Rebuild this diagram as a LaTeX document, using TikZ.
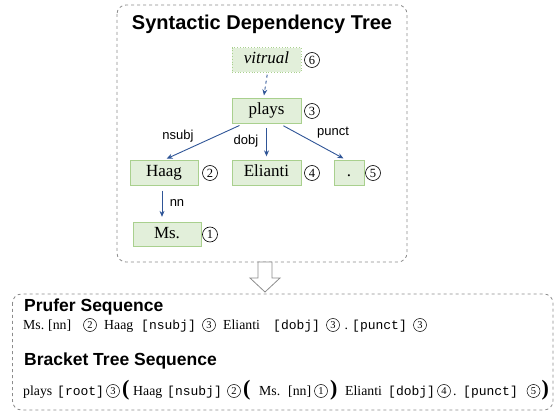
\documentclass[tikz,border=0pt]{standalone}
\usepackage{fontspec}
\setmainfont{Liberation Serif}
\setsansfont{Liberation Sans}
\setmonofont{Liberation Mono}
\usetikzlibrary{arrows.meta}
\definecolor{gfill}{HTML}{E2EFDA}
\definecolor{gdraw}{HTML}{A9D08E}
\definecolor{eblue}{HTML}{2F5597}
\definecolor{boxgray}{HTML}{8C8C8C}
\tikzset{
  wordbox/.style={draw=gdraw,fill=gfill,line width=0.8pt,minimum height=24.5pt,inner sep=0pt,text height=11.5pt,text depth=3.5pt,font=\fontsize{17}{17}\selectfont},
  numc/.style={circle,draw=black,line width=0.6pt,inner sep=0pt,minimum size=15pt,font=\fontsize{12.5}{12.5}\selectfont},
  snum/.style={circle,draw=black,line width=0.5pt,inner sep=0pt,minimum size=13pt,font=\fontsize{10.5}{10.5}\selectfont},
  edge/.style={draw=eblue,line width=0.9pt,-{Stealth[length=6pt,width=5pt]}},
  elabel/.style={font=\sffamily\fontsize{13}{13}\selectfont,inner sep=0pt},
  panel/.style={draw=boxgray,dashed,line width=0.8pt,rounded corners=9pt},
  heading/.style={font=\sffamily\bfseries\fontsize{17.5}{17.5}\selectfont,anchor=base west,inner sep=0pt},
  sw/.style={font=\fontsize{13.8}{15}\selectfont,anchor=base west,inner sep=0pt},
  st/.style={font=\ttfamily\fontsize{13}{15}\selectfont,anchor=base west,inner sep=0pt},
  sp/.style={font=\bfseries\fontsize{22}{22}\selectfont,anchor=base west,inner sep=0pt}
}
\begin{document}
\begin{tikzpicture}[x=1pt,y=-1pt]
\useasboundingbox (0,0) rectangle (560,414);
% upper panel
\draw[panel] (117,5) rectangle (407,262);
\node[font=\sffamily\bfseries\fontsize{20}{20}\selectfont,anchor=base,inner sep=0pt] (title) at (262,30) {Syntactic Dependency Tree};
% tree nodes
\node[wordbox,minimum width=69pt,draw=gdraw,dotted,line width=1pt,font=\itshape\fontsize{17}{17}\selectfont] (vit) at (266.5,60) {vitrual};
\node[wordbox,minimum width=69pt] (plays) at (266.5,111) {plays};
\node[wordbox,minimum width=68pt] (haag) at (164,173) {Haag};
\node[wordbox,minimum width=69pt] (eli) at (266.5,173) {Elianti};
\node[wordbox,minimum width=30pt] (dot) at (349,173) {.};
\node[wordbox,minimum width=68pt] (ms) at (167,234.5) {Ms.};
% numbers
\node[numc] (n6) at (312,60) {6};
\node[numc] (n3) at (312,111) {3};
\node[numc] (n2) at (210,173) {2};
\node[numc] (n4) at (312,173) {4};
\node[numc] (n5) at (373,173) {5};
\node[numc] (n1) at (210,234.5) {1};
% edges
\draw[edge,dashed,shorten <=2pt,shorten >=3pt] ([xshift=1pt]vit.south) -- ([xshift=-3pt]plays.north);
\draw[edge,shorten <=4.5pt,shorten >=4pt] ([xshift=-23pt]plays.south) -- ([xshift=-1pt]haag.north);
\draw[edge,shorten <=4.5pt,shorten >=4pt] (plays.south) -- (eli.north);
\draw[edge,shorten <=4.5pt,shorten >=4pt] ([xshift=13pt]plays.south) -- ([xshift=-2pt]dot.north);
\draw[edge,shorten <=5pt,shorten >=5pt] ([xshift=-2pt]haag.south) -- ([xshift=-2pt]haag.south |- ms.north);
\node[elabel] (lnsubj) at (178,136) {nsubj};
\node[elabel] (ldobj) at (246,141) {dobj};
\node[elabel] (lpunct) at (333,133) {punct};
\node[elabel] (lnn) at (177,203) {nn};
% hollow arrow
\draw[draw=boxgray,fill=white,line width=0.8pt] (258,262) -- (272,262) -- (272,278) -- (280,278) -- (265,292) -- (250,278) -- (258,278) -- cycle;
% lower panel
\draw[panel] (12.5,294) rectangle (553,410);
\node[heading] (h1) at (24,312) {Prufer Sequence};
% line 1
\node[sw] (a1) at (23,329.5) {Ms.};
\node[sw] (a2) at (48,329.5) {[nn]};
\node[snum] (a3) at (90,325) {2};
\node[sw] (a4) at (104,329.5) {Haag};
\node[st] (a5) at (141,329.5) {[nsubj]};
\node[snum] (a6) at (209,325) {3};
\node[sw] (a7) at (223,329.5) {Elianti};
\node[st] (a8) at (273,329.5) {[dobj]};
\node[snum] (a9) at (333,325) {3};
\node[sw] (a10) at (344.5,329.5) {.};
\node[st] (a11) at (352,329.5) {[punct]};
\node[snum] (a12) at (420,325) {3};
\node[heading] (h2) at (24,366) {Bracket Tree Sequence};
% line 2
\node[sw] (b1) at (23,395.5) {plays};
\node[st] (b2) at (57,395.5) {[root]};
\node[snum] (b3) at (113,391) {3};
\node[sp] (b4) at (122,395.5) {(};
\node[sw] (b5) at (133,395.5) {Haag};
\node[st] (b6) at (167,395.5) {[nsubj]};
\node[snum] (b7) at (234,391) {2};
\node[sp] (b8) at (243,395.5) {(};
\node[sw] (b9) at (259,395.5) {Ms.};
\node[sw] (b10) at (288,395.5) {[nn]};
\node[snum] (b11) at (321,391) {1};
\node[sp] (b12) at (330,395.5) {)};
\node[sw] (b13) at (345,395.5) {Elianti};
\node[st] (b14) at (388,395.5) {[dobj]};
\node[snum] (b15) at (444,391) {4};
\node[sw] (b16) at (453,395.5) {.};
\node[st] (b17) at (463,395.5) {[punct]};
\node[snum] (b18) at (533.5,391) {5};
\node[sp] (b19) at (541.5,395.5) {)};
\end{tikzpicture}
\end{document}
